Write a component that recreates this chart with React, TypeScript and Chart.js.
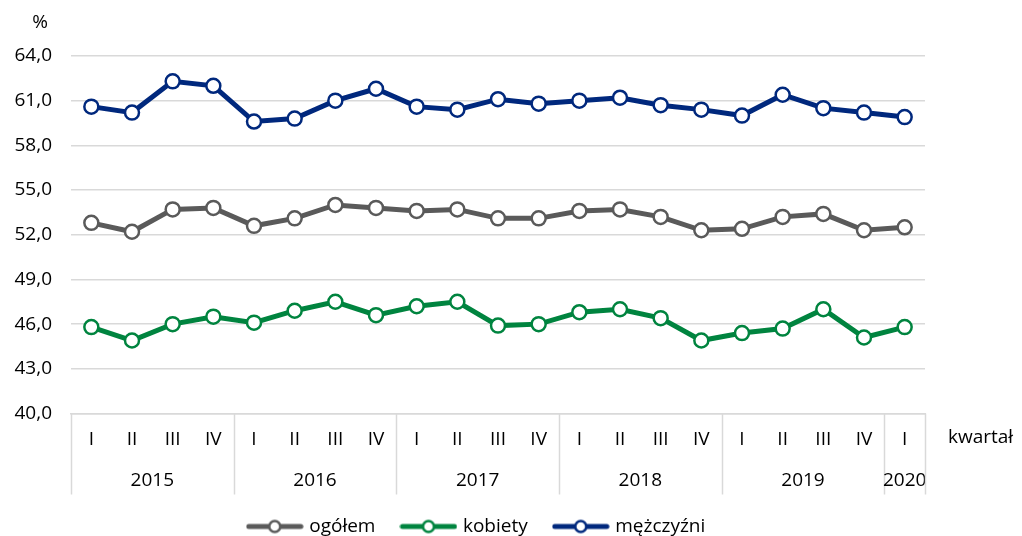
import React, { useEffect, useRef } from "react";
import { Chart, registerables } from "chart.js";

Chart.register(...registerables);

const quarters = [
  "I", "II", "III", "IV",
  "I", "II", "III", "IV",
  "I", "II", "III", "IV",
  "I", "II", "III", "IV",
  "I", "II", "III", "IV",
  "I",
];
const years = ["2015", "2016", "2017", "2018", "2019", "2020"];
const quartersPerYear = [4, 4, 4, 4, 4, 1];

const ogolem = [52.8, 52.2, 53.7, 53.8, 52.6, 53.1, 54.0, 53.8, 53.6, 53.7, 53.1, 53.1, 53.6, 53.7, 53.2, 52.3, 52.4, 53.2, 53.4, 52.3, 52.5];
const kobiety = [45.8, 44.9, 46.0, 46.5, 46.1, 46.9, 47.5, 46.6, 47.2, 47.5, 45.9, 46.0, 46.8, 47.0, 46.4, 44.9, 45.4, 45.7, 47.0, 45.1, 45.8];
const mezczyzni = [60.6, 60.2, 62.3, 62.0, 59.6, 59.8, 61.0, 61.8, 60.6, 60.4, 61.1, 60.8, 61.0, 61.2, 60.7, 60.4, 60.0, 61.4, 60.5, 60.2, 59.9];

const seriesNames = ["ogółem", "kobiety", "mężczyźni"];
const seriesColors = ["#5a5a5a", "#00843f", "#00287d"];

const yMin = 40;
const yMax = 64;
const yStep = 3;
const unitLabel = "%";
const xAxisLabel = "kwartał";

const FONT = "'Open Sans', 'Noto Sans', sans-serif";
const FS = 19;
const GRID = "#d9d9d9";
const TEXT = "#000";

function legendIcon(color: string): HTMLCanvasElement {
  const c = document.createElement("canvas");
  c.width = 58;
  c.height = 16;
  const g = c.getContext("2d")!;
  g.strokeStyle = color;
  g.lineWidth = 5;
  g.lineCap = "round";
  g.beginPath();
  g.moveTo(3, 8);
  g.lineTo(55, 8);
  g.stroke();
  g.beginPath();
  g.arc(29, 8, 5.5, 0, Math.PI * 2);
  g.fillStyle = "#fff";
  g.fill();
  g.lineWidth = 2.5;
  g.stroke();
  return c;
}

const decorPlugin = {
  id: "decor",
  afterDraw(chart: any) {
    const { ctx, chartArea, scales } = chart;
    const x = scales.x;
    ctx.save();
    ctx.fillStyle = TEXT;
    ctx.font = `${FS}px ${FONT}`;
    ctx.textAlign = "center";
    ctx.textBaseline = "middle";
    ctx.fillText(unitLabel, 40, 23);

    ctx.strokeStyle = GRID;
    ctx.lineWidth = 1.5;
    let start = 0;
    const bottom = chartArea.bottom;
    const boundary = (i: number) => {
      if (i <= 0) return chartArea.left;
      if (i >= quarters.length) return chartArea.right;
      return (x.getPixelForValue(i - 1) + x.getPixelForValue(i)) / 2;
    };
    for (let k = 0; k <= years.length; k++) {
      const bx = Math.round(boundary(start)) + 0.5;
      ctx.beginPath();
      ctx.moveTo(bx, bottom);
      ctx.lineTo(bx, bottom + 81);
      ctx.stroke();
      if (k < years.length) {
        const n = quartersPerYear[k];
        const cx = (x.getPixelForValue(start) + x.getPixelForValue(start + n - 1)) / 2;
        ctx.fillText(years[k], cx, bottom + 67);
        start += n;
      }
    }
    ctx.textAlign = "left";
    ctx.fillText(xAxisLabel, chartArea.right + 23, bottom + 24);
    ctx.restore();
  },
};

export default function App() {
  const ref = useRef<HTMLCanvasElement | null>(null);

  useEffect(() => {
    document.body.style.margin = "0";
    const data = [ogolem, kobiety, mezczyzni];
    const chart = new Chart(ref.current!, {
      type: "line",
      data: {
        labels: quarters,
        datasets: data.map((d, i) => ({
          label: seriesNames[i],
          data: d,
          borderColor: seriesColors[i],
          backgroundColor: "#ffffff",
          borderWidth: 5,
          pointRadius: 7,
          pointBorderWidth: 2.5,
          pointBackgroundColor: "#ffffff",
          pointBorderColor: seriesColors[i],
          pointStyle: "circle",
          tension: 0,
          fill: false,
          yAxisID: "y",
        })),
      },
      options: {
        animation: false,
        responsive: true,
        maintainAspectRatio: false,
        layout: { padding: { top: 56, left: 0, right: 67, bottom: 0 } },
        plugins: {
          tooltip: { enabled: false },
          legend: {
            position: "bottom",
            labels: {
              usePointStyle: true,
              pointStyleWidth: 50,
              padding: 28,
              color: TEXT,
              font: { family: FONT, size: FS },
              generateLabels: () =>
                seriesNames.map((n, i) => ({
                  text: n,
                  pointStyle: legendIcon(seriesColors[i]),
                  fillStyle: "#fff",
                  strokeStyle: seriesColors[i],
                  lineWidth: 0,
                  hidden: false,
                  datasetIndex: i,
                })),
            },
          },
        },
        scales: {
          x: {
            type: "category",
            offset: true,
            grid: { display: false, drawTicks: false },
            border: { display: true, color: GRID, width: 1.5 },
            ticks: {
              color: TEXT,
              font: { family: FONT, size: FS },
              padding: 15,
              maxRotation: 0,
              autoSkip: false,
            },
            afterFit: (s: any) => {
              s.height = 75.5;
            },
          },
          y: {
            min: yMin,
            max: yMax,
            grid: { color: GRID, lineWidth: 1.5, drawTicks: false },
            border: { display: false },
            ticks: {
              stepSize: yStep,
              padding: 19,
              color: TEXT,
              font: { family: FONT, size: FS },
              callback: (v: any) => Number(v).toFixed(1).replace(".", ","),
            },
            afterFit: (s: any) => {
              s.width = 71;
            },
          },
          yRight: {
            type: "linear",
            position: "right",
            min: yMin,
            max: yMax,
            grid: { display: false, drawTicks: false },
            border: { display: false },
            ticks: { display: false },
            afterFit: (s: any) => {
              s.width = 30;
            },
          },
        },
      },
      plugins: [decorPlugin],
    });
    return () => chart.destroy();
  }, []);

  return (
    <div style={{ position: "fixed", left: 0, top: 0, width: 1022, height: 536, overflow: "hidden", background: "#fff" }}>
      <div style={{ position: "relative", width: 1022, height: 546 }}>
        <canvas ref={ref} />
      </div>
    </div>
  );
}
